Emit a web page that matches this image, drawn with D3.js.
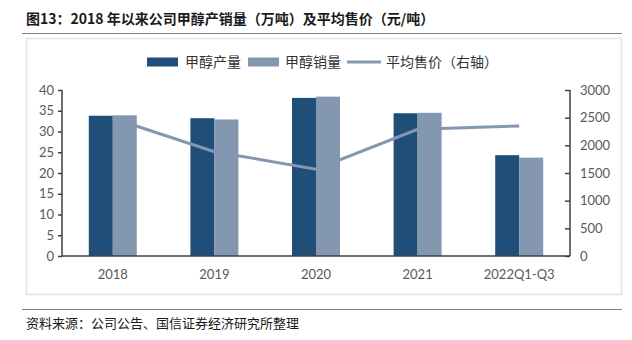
<!DOCTYPE html>
<html><head><meta charset="utf-8">
<script src="https://cdn.jsdelivr.net/npm/d3@7"></script>
<style>
body{margin:0;background:#fff;}
svg{display:block;}
</style></head>
<body>
<svg id="c" width="632" height="340"></svg>
<script>
const categories = ["2018","2019","2020","2021","2022Q1-Q3"];
const production = [33.8, 33.2, 38.1, 34.4, 24.3];
const sales = [33.9, 32.9, 38.4, 34.5, 23.7];
const avgPrice = [2490, 1885, 1570, 2290, 2350];
const leftTicks = [0,5,10,15,20,25,30,35,40];
const rightTicks = [0,500,1000,1500,2000,2500,3000];
const seriesNames = ["甲醇产量","甲醇销量","平均售价（右轴）"];
const title = "图13：2018 年以来公司甲醇产销量（万吨）及平均售价（元/吨）";
const source = "资料来源：公司公告、国信证券经济研究所整理";

const cDark = "#1f4e79", cLight = "#8497b0", axisC = "#404040", txtC = "#595959";
const latin = "Lato, 'Noto Sans CJK SC', sans-serif";
const cjk = "'Noto Sans CJK SC', sans-serif";

const svg = d3.select("#c");
// title
svg.append("text").attr("x",26).attr("y",24).attr("font-family",cjk).attr("font-weight","bold")
  .attr("font-size",14).attr("fill","#1a1a1a").text(title);
svg.append("line").attr("x1",22).attr("x2",622).attr("y1",33.5).attr("y2",33.5).attr("stroke","#808080").attr("stroke-width",1);
// frame
svg.append("rect").attr("x",26.5).attr("y",38.5).attr("width",595).attr("height",256).attr("fill","none").attr("stroke","#e3e3e3").attr("stroke-width",1.5);
// footer
svg.append("line").attr("x1",22).attr("x2",622).attr("y1",309.5).attr("y2",309.5).attr("stroke","#808080").attr("stroke-width",1);
svg.append("text").attr("x",26).attr("y",328).attr("font-family",cjk).attr("font-size",13).attr("fill","#1a1a1a").text(source);

const x0 = 62, x1 = 570, yTop = 90, yBot = 256;
const x = d3.scaleBand().domain(categories).range([x0,x1]).paddingInner(0).paddingOuter(0);
const yL = d3.scaleLinear().domain([0,40]).range([yBot,yTop]);
const yR = d3.scaleLinear().domain([0,3000]).range([yBot,yTop]);
const barW = 24;

const g = svg.append("g");
// bars
g.selectAll(".bp").data(categories).enter().append("rect")
  .attr("x",d=>x(d)+x.bandwidth()/2-barW).attr("width",barW)
  .attr("y",(d,i)=>yL(production[i])).attr("height",(d,i)=>yBot-yL(production[i])).attr("fill",cDark);
g.selectAll(".bs").data(categories).enter().append("rect")
  .attr("x",d=>x(d)+x.bandwidth()/2).attr("width",barW)
  .attr("y",(d,i)=>yL(sales[i])).attr("height",(d,i)=>yBot-yL(sales[i])).attr("fill",cLight);
// line
const line = d3.line().x((d,i)=>x(categories[i])+x.bandwidth()/2).y(d=>yR(d));
g.append("path").datum(avgPrice).attr("d",line).attr("fill","none").attr("stroke",cLight).attr("stroke-width",3);

// axes
const axL = d3.axisLeft(yL).tickValues(leftTicks).tickSize(4).tickPadding(4);
const gl = svg.append("g").attr("transform",`translate(${x0},0)`).call(axL);
const axR = d3.axisRight(yR).tickValues(rightTicks).tickFormat(d3.format("d")).tickSize(-5).tickPadding(10);
const gr = svg.append("g").attr("transform",`translate(${x1},0)`).call(axR);
const axB = d3.axisBottom(x).tickSize(0).tickPadding(14);
const gb = svg.append("g").attr("transform",`translate(0,${yBot})`).call(axB);
[gl,gr,gb].forEach(a=>{
  a.selectAll("path.domain").attr("stroke",axisC).attr("stroke-width",1.5);
  a.selectAll(".tick line").attr("stroke",axisC).attr("stroke-width",1.5);
  a.selectAll("text").attr("font-family",latin).attr("font-size",13).attr("fill",txtC);
});
gb.select("path.domain").attr("d",`M${x0},0H${x1}`);
gl.select("path.domain").attr("d",`M0,${yTop}V${yBot}`);
gr.select("path.domain").attr("d",`M0,${yTop}V${yBot}`);

// legend
const lg = svg.append("g");
const ly = 62;
lg.append("rect").attr("x",147).attr("y",ly-4.5).attr("width",31).attr("height",9).attr("fill",cDark);
lg.append("text").attr("x",185).attr("y",ly+5).attr("font-family",cjk).attr("font-size",14).attr("fill","#333").text(seriesNames[0]);
lg.append("rect").attr("x",248).attr("y",ly-4.5).attr("width",31).attr("height",9).attr("fill",cLight);
lg.append("text").attr("x",285).attr("y",ly+5).attr("font-family",cjk).attr("font-size",14).attr("fill","#333").text(seriesNames[1]);
lg.append("line").attr("x1",347).attr("x2",381).attr("y1",ly).attr("y2",ly).attr("stroke",cLight).attr("stroke-width",3);
lg.append("text").attr("x",386).attr("y",ly+5).attr("font-family",cjk).attr("font-size",14).attr("fill","#333").text(seriesNames[2]);
</script>
</body></html>
